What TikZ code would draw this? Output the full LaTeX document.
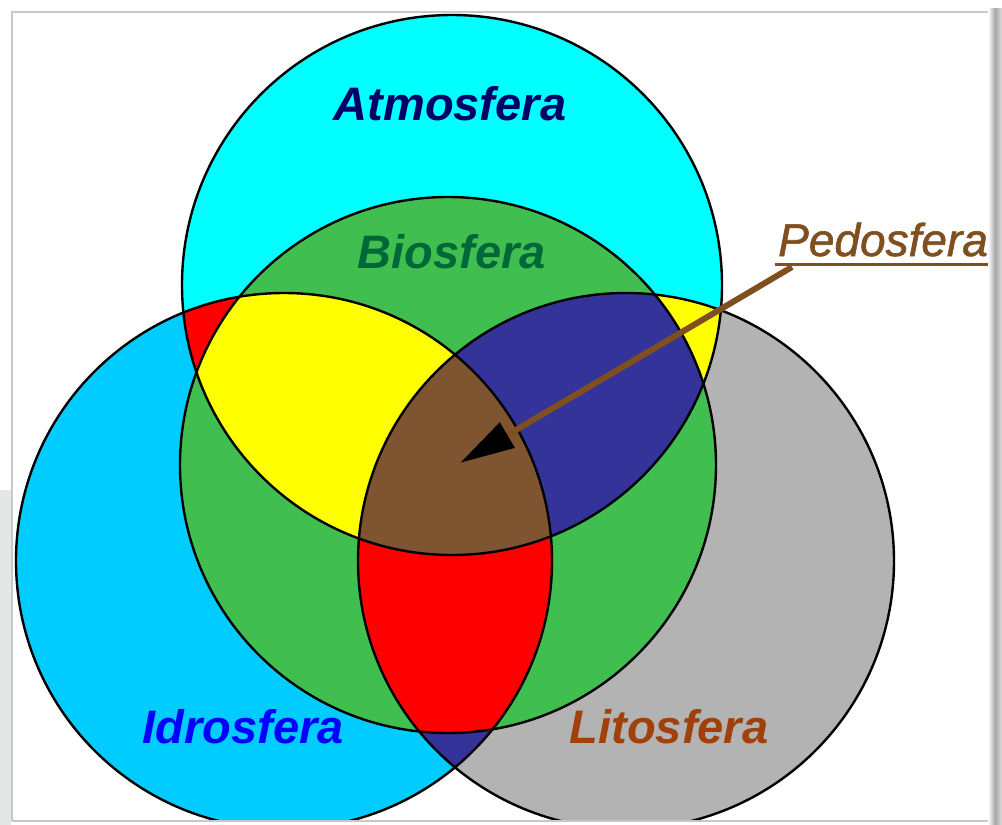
\documentclass[tikz,border=0pt]{standalone}
\usepackage{fontspec}
\setmainfont{Liberation Sans}
\newfontfamily\pedofam[FakeBold=1.3]{Liberation Sans}
\usetikzlibrary{arrows.meta}
\definecolor{atmoC}{HTML}{00FFFF}
\definecolor{bioC}{HTML}{40BF50}
\definecolor{idroC}{HTML}{00CCFF}
\definecolor{litoC}{HTML}{B3B3B3}
\definecolor{yelC}{HTML}{FFFF00}
\definecolor{navyC}{HTML}{333399}
\definecolor{redC}{HTML}{FF0000}
\definecolor{brownC}{HTML}{7F5430}
\definecolor{atmoT}{HTML}{000066}
\definecolor{bioT}{HTML}{006838}
\definecolor{idroT}{HTML}{0000FF}
\definecolor{litoT}{HTML}{A0400A}
\definecolor{pedoT}{HTML}{7F4F1F}
\definecolor{frameC}{HTML}{C8C8C8}
\definecolor{leftC}{HTML}{E2E7E7}
\tikzset{
  outl/.style={draw=black, line width=2.4pt},
  lbl/.style={font=\fontsize{47pt}{50pt}\selectfont\bfseries\itshape, inner sep=0pt, anchor=base},
  pedolbl/.style={font=\fontsize{46pt}{50pt}\selectfont\pedofam\itshape, inner sep=0pt, anchor=base west, text=pedoT},
  pedoline/.style={draw=pedoT, line width=3pt},
  pedoarrow/.style={draw=pedoT, line width=6pt, -{Triangle[length=55pt,width=28pt,color=black,fill=black]}},
}
\begin{document}
\begin{tikzpicture}[x=1pt,y=-1pt]
\useasboundingbox (0,0) rectangle (1002,825);
\fill[white] (0,0) rectangle (1002,825);
\fill[leftC] (0,490) rectangle (11,825);
\begin{scope}
\clip (12,13) rectangle (990,820);
% base fills
\fill[idroC] (284,561) circle[radius=268pt];
\fill[litoC] (626,561) circle[radius=268pt];
\fill[atmoC] (452,285) circle[radius=270pt];
% overlaps outside Biosfera
\begin{scope}
\clip (452,285) circle[radius=270pt];
\fill[redC] (284,561) circle[radius=268pt];
\end{scope}
\begin{scope}
\clip (452,285) circle[radius=270pt];
\fill[yelC] (626,561) circle[radius=268pt];
\end{scope}
\begin{scope}
\clip (284,561) circle[radius=268pt];
\fill[navyC] (626,561) circle[radius=268pt];
\end{scope}
% Biosfera
\fill[bioC] (448,465) circle[radius=268pt];
\begin{scope}
\clip (448,465) circle[radius=268pt];
\clip (452,285) circle[radius=270pt];
\fill[yelC] (284,561) circle[radius=268pt];
\end{scope}
\begin{scope}
\clip (448,465) circle[radius=268pt];
\clip (452,285) circle[radius=270pt];
\fill[navyC] (626,561) circle[radius=268pt];
\end{scope}
\begin{scope}
\clip (448,465) circle[radius=268pt];
\clip (284,561) circle[radius=268pt];
\fill[redC] (626,561) circle[radius=268pt];
\end{scope}
\begin{scope}
\clip (448,465) circle[radius=268pt];
\clip (452,285) circle[radius=270pt];
\clip (284,561) circle[radius=268pt];
\fill[brownC] (626,561) circle[radius=268pt];
\end{scope}
% outlines
\draw[outl] (284,561) circle[radius=268pt];
\draw[outl] (626,561) circle[radius=268pt];
\draw[outl] (452,285) circle[radius=270pt];
\draw[outl] (448,465) circle[radius=268pt];
\end{scope}
% frame
\draw[frameC, line width=1.2pt] (12,821) -- (12,12) -- (990,12);
\draw[frameC, line width=1.2pt] (12,821) -- (990,821);
% labels
\node[lbl, text=atmoT] (atmo) at (450,120) {Atmosfera};
\node[lbl, text=bioT] (bio) at (452,268) {Biosfera};
\node[lbl, text=idroT] (idro) at (243,743) {Idrosfera};
\node[lbl, text=litoT] (lito) at (669,743) {Litosfera};
\node[pedolbl] (pedo) at (778,256) {Pedosfera};
\coordinate (ulA) at (775,264);
\coordinate (ulB) at (995,264);
\draw[pedoline] (ulA) -- (ulB);
\coordinate (pstart) at (792,267);
\coordinate (ptip) at (460,463);
\draw[pedoarrow] (pstart) -- (ptip);
\shade[left color=white, right color=gray!70] (988,8) rectangle (995,825);
\shade[left color=gray!70, right color=gray!25] (995,8) rectangle (1002,825);
\end{tikzpicture}
\end{document}
